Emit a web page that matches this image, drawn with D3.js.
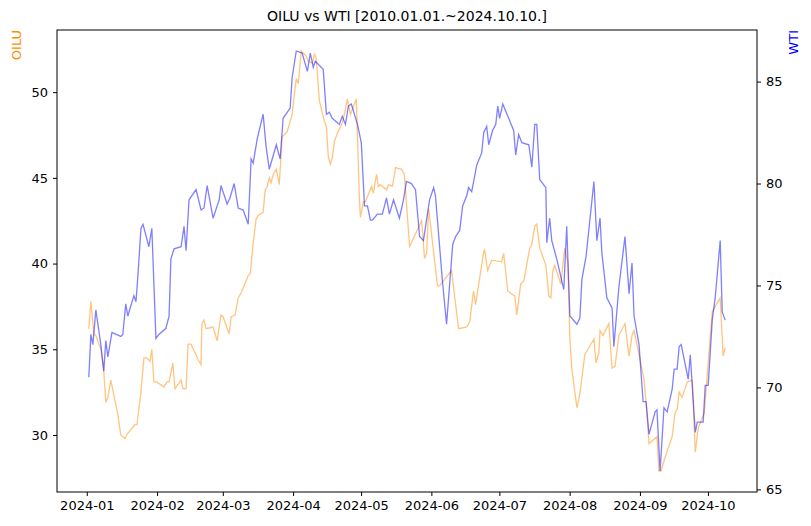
<!DOCTYPE html>
<html><head><meta charset="utf-8">
<script src="https://cdn.jsdelivr.net/npm/d3@7"></script>
<style>body{margin:0;background:#fff}text{font-family:"DejaVu Sans",sans-serif}</style>
</head><body><svg id="c" width="811" height="526"></svg>
<script>
// [days since 2024-01-01, value]
const oiluData = [[0.9,36.2],[1.8,37.8],[3.1,35.9],[4.0,35.8],[6.2,35.0],[7.5,33.7],[8.4,31.9],[9.3,32.2],[10.6,33.2],[13.7,31.2],
[15.0,30.0],[16.8,29.8],[18.1,30.1],[21.2,30.6],[22.1,30.6],[23.9,32.5],[25.2,34.5],[26.5,34.5],[27.9,34.3],[28.7,35.0],
[29.6,33.1],[30.9,33.1],[34.0,32.8],[35.4,33.1],[36.3,33.1],[38.0,34.2],[38.9,32.7],[41.6,33.2],[42.4,32.7],[43.8,32.7],
[44.7,35.3],[46.0,35.3],[49.1,34.4],[50.4,34.1],[50.8,36.5],[51.7,36.7],[52.6,36.2],[55.7,36.3],[57.5,35.5],[59.2,37.0],
[60.1,36.9],[62.8,35.9],[63.7,36.9],[65.4,37.0],[66.8,38.0],[68.1,38.3],[70.3,39.0],[71.2,39.3],[72.1,39.4],[73.4,41.2],
[74.7,42.6],[75.6,42.8],[77.8,43.0],[78.7,44.3],[79.6,44.5],[80.5,45.0],[81.3,44.7],[82.2,45.2],[83.6,45.5],[84.4,45.0],
[84.9,44.6],[86.2,47.4],[88.4,47.7],[90.6,48.7],[91.5,49.8],[92.4,50.8],[93.3,50.5],[94.6,52.4],[96.8,52.1],[97.7,51.8],
[99.5,51.7],[100.4,52.2],[101.2,52.0],[102.6,49.5],[104.8,48.3],[105.7,48.0],[106.5,46.3],[107.4,45.8],[108.3,46.2],[109.2,47.1],
[110.5,47.6],[112.7,48.2],[114.1,49.0],[114.9,49.6],[116.3,48.7],[118.0,49.3],[118.9,49.6],[120.2,44.0],[120.7,42.7],[122.0,43.6],
[122.9,43.6],[125.6,44.5],[126.4,44.1],[127.8,45.2],[128.6,44.5],[129.5,44.6],[132.2,44.3],[133.1,44.6],[134.8,44.5],[136.2,45.6],
[138.8,45.5],[140.1,45.2],[142.4,41.0],[147.7,42.5],[149.0,40.3],[149.9,40.6],[150.8,43.2],[154.7,38.7],[155.6,38.7],[157.4,39.0],
[160.9,39.6],[164.0,36.2],[167.6,36.3],[168.9,36.6],[170.6,38.4],[171.5,37.6],[175.1,40.7],[175.5,40.8],[176.8,39.6],[178.6,40.2],
[183.0,40.1],[183.9,40.6],[185.7,38.4],[188.8,38.1],[189.7,37.0],[191.4,38.8],[192.8,39.0],[195.4,40.9],[196.3,41.1],[197.6,42.2],
[198.5,42.3],[199.8,40.9],[202.5,39.9],[203.8,38.1],[204.7,38.0],[205.6,39.6],[206.4,39.9],[209.1,38.8],[210.8,40.9],[212.2,40.1],
[213.1,35.6],[214.0,33.8],[216.2,31.6],[217.5,32.4],[219.7,34.7],[223.7,35.6],[224.6,34.2],[225.9,34.8],[226.4,36.1],[227.7,35.8],
[230.3,36.5],[231.7,33.9],[233.0,34.0],[234.7,35.8],[237.4,36.5],[239.2,34.6],[240.5,35.8],[241.4,36.1],[243.6,34.7],[245.8,33.2],
[246.7,31.9],[248.0,29.5],[251.5,29.9],[252.4,27.9],[253.3,27.9],[255.1,28.7],[258.2,29.9],[259.5,31.3],[260.4,31.5],[261.3,32.5],
[262.6,32.2],[264.9,33.1],[267.1,33.2],[268.4,29.0],[269.7,30.4],[272.4,31.3],[274.1,34.2],[275.9,37.2],[279.4,38.0],[280.7,34.6],[281.6,35.1]];
const wtiData = [[0.9,70.5],[1.8,72.6],[2.7,72.1],[4.0,73.8],[6.2,72.1],[7.5,70.8],[8.4,72.3],[9.3,71.5],[11.1,72.7],[15.0,72.5],
[15.9,72.6],[17.2,74.1],[18.1,73.5],[20.8,74.5],[21.7,74.2],[22.5,75.4],[23.9,77.8],[24.8,78.0],[27.4,76.9],[28.7,77.8],
[30.5,72.4],[31.8,72.6],[34.9,72.9],[36.3,73.5],[37.1,76.3],[38.5,76.8],[41.6,76.9],[42.9,77.9],[43.8,76.7],[45.1,79.2],
[48.2,79.7],[50.4,78.7],[51.7,78.8],[53.1,79.9],[55.7,78.3],[58.4,79.2],[59.2,79.9],[61.9,79.0],[63.2,79.3],[65.0,80.0],
[66.8,78.8],[69.0,78.7],[71.2,78.0],[72.5,81.2],[73.4,81.0],[75.2,82.2],[77.8,83.4],[79.1,81.8],[80.5,80.7],[83.6,81.9],
[85.3,81.2],[86.6,83.2],[89.7,83.7],[90.6,85.2],[92.4,86.5],[95.0,86.4],[97.3,85.5],[98.6,86.4],[99.9,85.7],[100.8,86.0],
[104.3,85.6],[105.7,83.4],[107.0,83.5],[108.3,83.2],[111.4,82.9],[112.7,83.3],[114.1,82.9],[115.4,83.8],[116.7,83.9],[119.4,82.9],
[121.1,82.0],[122.5,78.9],[123.8,78.9],[125.1,78.2],[126.0,78.2],[128.2,78.5],[130.4,78.5],[132.2,79.3],[133.5,78.5],[135.3,79.2],
[137.9,78.3],[139.7,79.2],[141.0,80.1],[143.2,80.0],[145.0,79.7],[146.8,77.4],[148.5,77.2],[151.2,79.2],[153.0,79.8],[153.8,79.4],
[155.2,77.5],[156.9,75.2],[158.7,73.1],[161.4,77.0],[162.7,77.4],[164.5,77.7],[165.8,78.9],[167.6,79.4],[168.4,79.8],[169.8,79.6],
[172.0,80.9],[174.2,81.5],[175.1,82.5],[176.4,82.8],[177.3,81.9],[179.0,82.6],[180.4,82.9],[181.3,83.8],[182.1,83.2],[183.5,83.9],
[186.1,83.2],[188.3,82.6],[189.2,81.4],[190.5,82.4],[191.9,82.0],[195.0,81.9],[196.3,80.8],[197.6,82.9],[198.5,82.9],[199.8,80.2],
[202.5,79.8],[202.9,77.1],[204.2,78.3],[205.1,77.2],[207.3,76.3],[210.4,74.8],[211.7,77.9],[213.1,73.5],[216.2,73.1],[217.5,73.4],
[218.4,75.3],[220.2,76.4],[223.7,80.1],[225.0,77.2],[226.4,78.3],[227.2,76.6],[229.4,74.4],[231.7,73.9],[232.5,72.0],[234.7,74.9],
[237.4,77.4],[239.2,74.6],[240.5,76.1],[241.4,73.5],[243.6,72.1],[245.4,69.3],[246.7,69.3],[248.0,67.7],[250.7,68.8],[251.5,68.9],
[252.9,65.9],[254.6,69.0],[256.0,68.8],[258.2,69.9],[259.1,70.9],[260.4,70.9],[261.3,72.0],[262.2,72.1],[265.3,70.4],[266.2,71.6],
[268.4,67.8],[269.3,68.3],[271.9,68.3],[272.8,70.1],[274.1,70.1],[275.9,73.3],[277.2,74.4],[279.4,77.2],[280.3,73.7],[281.6,73.3]];
const leftTicks = [30,35,40,45,50];
const rightTicks = [65,70,75,80,85];
const title = "OILU vs WTI [2010.01.01.~2024.10.10.]";

const t0 = Date.UTC(2024,0,1), DAY = 86400000;
const toDate = d => new Date(t0 + d*DAY);
const m = {l:57, r:757, t:30, b:492};
const svg = d3.select("#c");
const allT = oiluData.concat(wtiData).map(d=>d[0]);
const pad = (lo,hi)=>[lo-(hi-lo)*0.05, hi+(hi-lo)*0.05];
const xd = pad(d3.min(allT), d3.max(allT));
const x = d3.scaleUtc().domain([toDate(xd[0]),toDate(xd[1])]).range([m.l,m.r]);
const yl = d3.scaleLinear().domain(pad(...d3.extent(oiluData,d=>d[1]))).range([m.b,m.t]);
const yr = d3.scaleLinear().domain(pad(...d3.extent(wtiData,d=>d[1]))).range([m.b,m.t]);

const lineL = d3.line().x(d=>x(toDate(d[0]))).y(d=>yl(d[1]));
const lineR = d3.line().x(d=>x(toDate(d[0]))).y(d=>yr(d[1]));
svg.append("path").datum(oiluData).attr("d",lineL).attr("fill","none").attr("stroke","#ff8c00").attr("stroke-opacity",0.5).attr("stroke-width",1.3);
svg.append("path").datum(wtiData).attr("d",lineR).attr("fill","none").attr("stroke","#0000ff").attr("stroke-opacity",0.5).attr("stroke-width",1.3);

const style = g => { g.selectAll("text").attr("font-size",13).attr("fill","#000"); g.selectAll("line").attr("stroke","#000"); g.select(".domain").remove(); };
svg.append("g").attr("transform",`translate(0,${m.b})`)
  .call(d3.axisBottom(x).ticks(d3.utcMonth.every(1)).tickFormat(d3.utcFormat("%Y-%m")).tickSize(4).tickPadding(5)).call(style);
svg.append("g").attr("transform",`translate(${m.l},0)`)
  .call(d3.axisLeft(yl).tickValues(leftTicks).tickSize(4).tickPadding(5)).call(style);
svg.append("g").attr("transform",`translate(${m.r},0)`)
  .call(d3.axisRight(yr).tickValues(rightTicks).tickSize(4).tickPadding(5)).call(style);
svg.append("rect").attr("x",m.l).attr("y",m.t).attr("width",m.r-m.l).attr("height",m.b-m.t).attr("fill","none").attr("stroke","#000").attr("stroke-width",1);

svg.append("text").attr("x",(m.l+m.r)/2).attr("y",21).attr("text-anchor","middle").attr("font-size",14).text(title);
svg.append("text").attr("transform",`translate(21,${m.t}) rotate(-90)`).attr("text-anchor","end").attr("font-size",13).attr("fill","darkorange").text("OILU");
svg.append("text").attr("transform",`translate(798,${m.t}) rotate(-90)`).attr("text-anchor","end").attr("font-size",13).attr("fill","blue").text("WTI");
</script></body></html>
